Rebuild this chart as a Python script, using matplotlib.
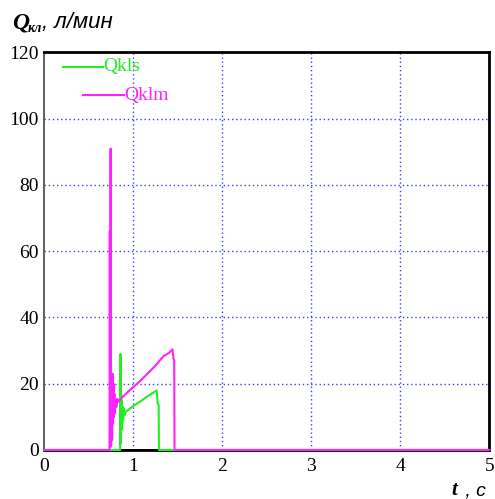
import matplotlib
matplotlib.use("Agg")
import matplotlib.pyplot as plt
import numpy as np

# ---- data ----
t_klm = [0.0, 0.733, 0.736, 0.739, 0.742, 0.745, 0.748, 0.752, 0.757, 0.762, 0.767, 0.772,
         0.777, 0.782, 0.787, 0.792, 0.80, 0.81, 0.82, 0.83, 0.852, 0.95, 1.075, 1.15,
         1.25, 1.337, 1.40, 1.44, 1.452, 1.460, 1.463, 5.0]
q_klm = [0.0, 0.0, 66.0, 3.0, 2.0, 91.0, 1.0, 2.0, 20.0, 3.0, 23.0, 8.0,
         20.0, 10.0, 17.0, 11.0, 15.0, 13.0, 15.5, 14.5, 15.3, 17.8, 20.8, 22.8,
         25.5, 28.3, 29.3, 30.4, 27.5, 27.0, 0.0, 0.0]

t_kls = [0.0, 0.852, 0.856, 0.859, 0.863, 0.867, 0.871, 0.876, 0.881, 0.886, 0.891, 0.90,
         0.918, 1.0, 1.075, 1.15, 1.263, 1.274, 1.285, 1.288, 5.0]
q_kls = [0.0, 0.0, 29.0, 2.0, 17.0, 6.0, 15.0, 8.0, 13.0, 9.0, 12.5, 10.5,
         11.6, 13.3, 14.6, 16.0, 18.0, 14.0, 13.6, 0.0, 0.0]

t_base = [0.0, 5.0]
q_base = [0.0, 0.0]

xticks = [0, 1, 2, 3, 4, 5]
yticks = [0, 20, 40, 60, 80, 100, 120]
series_names = ["Qkls", "Qklm"]

GREEN = "#22ee22"
MAGENTA = "#ff22ff"
GRID = "#3344ff"

fig = plt.figure(figsize=(4.95, 4.99), dpi=100)
ax = fig.add_axes([0.0895, 0.0982, 0.8990, 0.7966])

ax.plot(t_base, q_base, color="black", lw=2.0, zorder=2, clip_on=False)
ax.plot(t_kls, q_kls, color=GREEN, lw=1.5, zorder=3, clip_on=False)
ax.plot(t_klm, q_klm, color=MAGENTA, lw=1.5, zorder=4, clip_on=False)

ax.set_xlim(0, 5)
ax.set_ylim(0, 120)
ax.set_xticks(xticks)
ax.set_yticks(yticks)
ax.set_xticklabels([str(v) for v in xticks], family="Liberation Serif", fontsize=14)
ax.set_yticklabels([str(v) for v in yticks], family="Liberation Serif", fontsize=14)
ax.tick_params(length=0, pad=4)
ax.tick_params(axis="x", pad=6)

for v in yticks[1:-1]:
    ax.axhline(v, color=GRID, lw=1.0, ls=(0, (1, 2)), zorder=1)
for v in xticks[1:-1]:
    ax.axvline(v, color=GRID, lw=1.0, ls=(0, (1, 2)), zorder=1)

for s in ["top", "right"]:
    ax.spines[s].set_linewidth(2.0)
    ax.spines[s].set_color("black")
ax.spines["left"].set_linewidth(1.2)
ax.spines["left"].set_color("#444444")
ax.spines["bottom"].set_linewidth(1.2)

# legend (staggered, as in the reference)
ax.plot([0.042, 0.132], [0.964, 0.964], transform=ax.transAxes, color=GREEN, lw=1.5)
ax.text(0.132, 0.964, series_names[0], transform=ax.transAxes, color=GREEN,
        family="Liberation Serif", fontsize=14, va="center", ha="left")
ax.plot([0.087, 0.179], [0.893, 0.893], transform=ax.transAxes, color=MAGENTA, lw=1.5)
ax.text(0.179, 0.893, series_names[1], transform=ax.transAxes, color=MAGENTA,
        family="Liberation Serif", fontsize=14, va="center", ha="left")

# axis titles
fig.text(12 / 495, 1 - 28 / 499, "Q", family="Liberation Serif", fontsize=17,
         style="italic", weight="bold", ha="left", va="baseline")
fig.text(28 / 495, 1 - 32 / 499, "кл", family="Liberation Serif", fontsize=10,
         style="italic", weight="bold", ha="left", va="baseline")
fig.text(42 / 495, 1 - 28 / 499, ", л/мин", family="Liberation Sans", fontsize=16,
         style="italic", ha="left", va="baseline")

fig.text(451 / 495, 1 - 495 / 499, "t", family="Liberation Serif", fontsize=15,
         style="italic", weight="bold", ha="left", va="baseline")
fig.text(460 / 495, 1 - 495 / 499, " , c", family="Liberation Sans", fontsize=14,
         style="italic", ha="left", va="baseline")

fig.savefig("out.png", dpi=100, facecolor="white")
